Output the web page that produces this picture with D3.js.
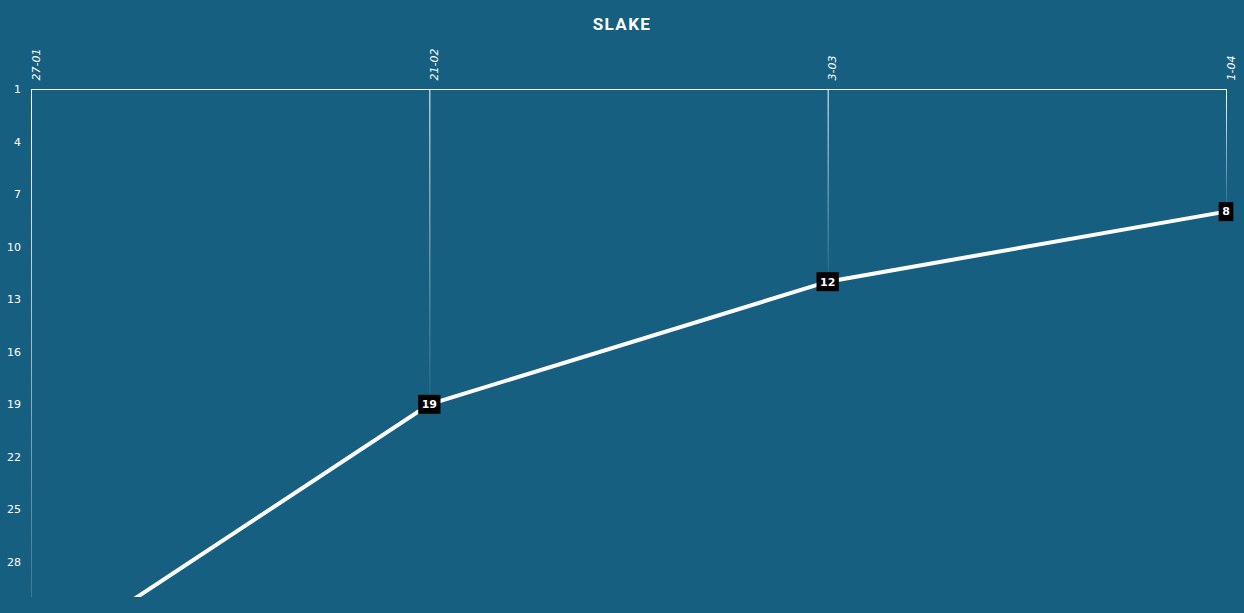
<!DOCTYPE html>
<html><head><meta charset="utf-8">
<script src="https://cdn.jsdelivr.net/npm/d3@7"></script>
<style>
html,body{margin:0;padding:0;background:#175f80;}
svg{display:block;}
</style></head><body>
<svg id="c" width="1244" height="613"></svg>
<script>
const title = "SLAKE";
const dates = ["27-01", "21-02", "3-03", "1-04"];
const ranks = [34, 19, 12, 8];
const yTicks = [1, 4, 7, 10, 13, 16, 19, 22, 25, 28];

const W = 1244, H = 613;
const m = {left: 31, right: 18, top: 89, bottom: 16};
const svg = d3.select("#c");
svg.append("rect").attr("width", W).attr("height", H).attr("fill", "#175f80");

const x = d3.scalePoint().domain(dates).range([m.left, W - m.right]);
const y = d3.scaleLinear().domain([1, 30]).range([m.top, H - m.bottom]);

const defs = svg.append("defs");
defs.append("clipPath").attr("id", "clip").append("rect")
  .attr("x", 0).attr("y", m.top).attr("width", W).attr("height", H - m.bottom - m.top);

svg.append("text").attr("x", W / 2).attr("y", 30).attr("text-anchor", "middle")
  .attr("fill", "#fff").attr("font-family", "Roboto, 'DejaVu Sans', sans-serif")
  .attr("font-weight", "bold").attr("font-size", 17).attr("letter-spacing", 1.4).text(title);

// gradient drop lines
const g = svg.append("g").attr("clip-path", "url(#clip)");
dates.forEach((d, i) => {
  const id = "grad" + i;
  const gr = defs.append("linearGradient").attr("id", id)
    .attr("gradientUnits", "userSpaceOnUse")
    .attr("x1", 0).attr("x2", 0).attr("y1", y(1)).attr("y2", y(ranks[i]));
  gr.append("stop").attr("offset", "0%").attr("stop-color", "#fff").attr("stop-opacity", 1);
  gr.append("stop").attr("offset", "100%").attr("stop-color", "#fff").attr("stop-opacity", 0.05);
  g.append("line").attr("x1", x(d) + 0.5).attr("x2", x(d) + 0.5)
    .attr("y1", y(1)).attr("y2", y(ranks[i]))
    .attr("stroke", `url(#${id})`).attr("stroke-width", 1);
});

// top axis
const xa = svg.append("g").attr("transform", `translate(0,${m.top + 0.5})`)
  .call(d3.axisTop(x).tickSize(0).tickPadding(0));
xa.select(".domain").attr("stroke", "#fff").attr("stroke-width", 1)
  .attr("d", `M${m.left},0H${W - m.right + 1}`);
xa.selectAll(".tick text").attr("fill", "#fff")
  .attr("font-family", "'DejaVu Sans', sans-serif").attr("font-size", 11)
  .attr("font-style", "italic")
  .attr("text-anchor", "start").attr("dy", null)
  .attr("transform", "translate(8,-9) rotate(-90)");

// y axis
const ya = svg.append("g").attr("transform", `translate(${m.left},0)`)
  .call(d3.axisLeft(y).tickValues(yTicks).tickSize(0).tickPadding(10));
ya.select(".domain").remove();
ya.selectAll(".tick text").attr("fill", "#fff")
  .attr("font-family", "'DejaVu Sans', sans-serif").attr("font-size", 11);

// line
const data = dates.map((d, i) => ({d, r: ranks[i]}));
g.append("path").datum(data)
  .attr("d", d3.line().x(p => x(p.d)).y(p => y(p.r)))
  .attr("fill", "none").attr("stroke", "#fff").attr("stroke-width", 4);

// labels (only those inside the visible rank range)
const lab = svg.append("g");
data.filter(p => p.r <= y.domain()[1]).forEach(p => {
  const t = lab.append("text").attr("x", x(p.d)).attr("y", y(p.r)).attr("dy", "0.35em")
    .attr("text-anchor", "middle").attr("fill", "#fff")
    .attr("font-family", "'DejaVu Sans', sans-serif").attr("font-weight", "bold")
    .attr("font-size", 11).text(p.r);
  const bb = t.node().getBBox();
  lab.insert("rect", () => t.node())
    .attr("x", x(p.d) - bb.width / 2 - 3.5).attr("y", y(p.r) - 9.5)
    .attr("width", bb.width + 7).attr("height", 19).attr("fill", "#000");
});
</script>
</body></html>
